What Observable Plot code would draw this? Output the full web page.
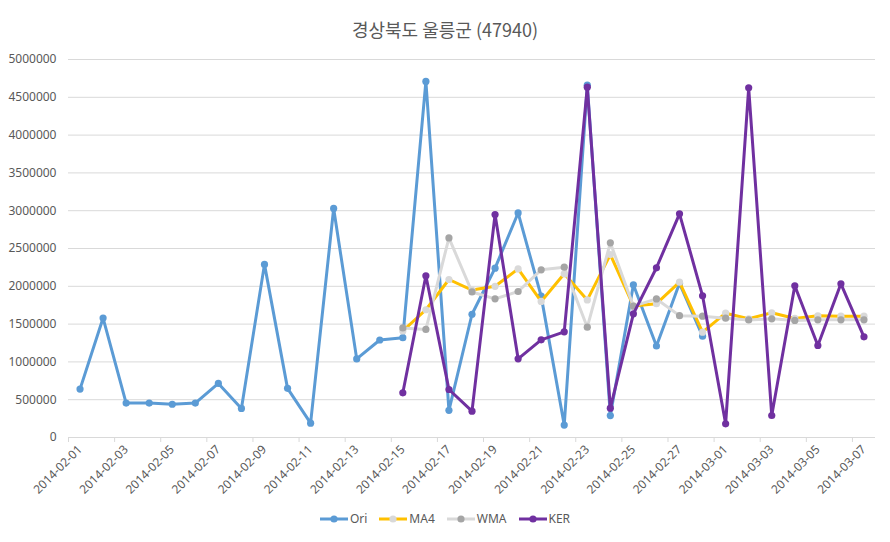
<!DOCTYPE html>
<html><head><meta charset="utf-8">
<script src="https://cdn.jsdelivr.net/npm/d3@7"></script>
<script src="https://cdn.jsdelivr.net/npm/@observablehq/plot@0.6"></script>
<style>
body{margin:0;background:#fff;font-family:"Noto Sans","Noto Sans CJK KR",sans-serif}
#wrap{position:relative;width:890px;height:542px;overflow:hidden}
#title{position:absolute;top:16px;left:0;width:890px;text-align:center;font-family:"Noto Sans CJK KR";font-size:18px;color:#595959}
#chart{position:absolute;top:45px;left:0}
#legend{position:absolute;top:510px;left:0;width:890px;display:flex;justify-content:center;font-size:12px;color:#595959}
#legend .it{display:flex;align-items:center;margin:0 6px}
#legend svg{margin-right:2px}
</style></head>
<body><div id="wrap"><div id="title">경상북도 울릉군 (47940)</div><div id="chart"></div><div id="legend"></div></div>
<script>
const dates = ["2014-02-01","2014-02-02","2014-02-03","2014-02-04","2014-02-05","2014-02-06","2014-02-07",
"2014-02-08","2014-02-09","2014-02-10","2014-02-11","2014-02-12","2014-02-13","2014-02-14","2014-02-15",
"2014-02-16","2014-02-17","2014-02-18","2014-02-19","2014-02-20","2014-02-21","2014-02-22","2014-02-23",
"2014-02-24","2014-02-25","2014-02-26","2014-02-27","2014-02-28","2014-03-01","2014-03-02","2014-03-03",
"2014-03-04","2014-03-05","2014-03-06","2014-03-07"];
const ori = [640000,1580000,455000,455000,440000,455000,715000,385000,2290000,650000,190000,3030000,1040000,1290000,1320000,
4710000,360000,1630000,2240000,2970000,1870000,165000,4660000,290000,2020000,1210000,2040000,1340000,
null,null,null,null,null,null,null];
const ma4 = [null,null,null,null,null,null,null,null,null,null,null,null,null,null,1410000,
1690000,2090000,1950000,2000000,2230000,1800000,2165000,1820000,2420000,1740000,1770000,2055000,1393000,
1644000,1570000,1650000,1575000,1610000,1605000,1605000];
const wma = [null,null,null,null,null,null,null,null,null,null,null,null,null,null,1450000,
1430000,2640000,1925000,1834000,1931000,2218000,2253000,1459000,2575000,1737000,1833000,1612000,1605000,
1578000,1555000,1570000,1548000,1557000,1557000,1557000];
const ker = [null,null,null,null,null,null,null,null,null,null,null,null,null,null,591000,
2139000,635000,348000,2950000,1041000,1292000,1398000,4634000,388000,1636000,2245000,2959000,1874000,
181000,4626000,291000,2007000,1217000,2033000,1332000];
const yTicks = [0,500000,1000000,1500000,2000000,2500000,3000000,3500000,4000000,4500000,5000000];

const series = [
  {name:"Ori", values:ori, line:"#5B9BD5", marker:"#5B9BD5"},
  {name:"MA4", values:ma4, line:"#FFC000", marker:"#D9D9D9"},
  {name:"WMA", values:wma, line:"#D9D9D9", marker:"#A5A5A5"},
  {name:"KER", values:ker, line:"#7030A0", marker:"#7030A0"}
];
const rows = s => s.values.map((v,i)=>({i, v, date:dates[i]})).filter(d=>d.v!=null);
const labelIdx = dates.map((d,i)=>i).filter(i=>i%2===0);
const tickIdx = labelIdx.map(i=>i-0.5);

const marks = [
  Plot.gridY(yTicks, {stroke:"#D9D9D9", strokeOpacity:1}),
  Plot.ruleY([0], {stroke:"#D9D9D9"}),
  Plot.axisY(yTicks, {label:null, tickSize:0, tickPadding:12, tickFormat:d=>String(d), fill:"#595959", fontSize:12}),
  Plot.axisX(labelIdx, {label:null, tickSize:0, tickPadding:10, tickRotate:-45, tickFormat:i=>dates[i], fill:"#595959", fontSize:12}),
  Plot.axisX(tickIdx, {label:null, tickSize:5, tickFormat:()=>"" , stroke:"#D9D9D9"})
];
for (const s of series) {
  marks.push(Plot.line(rows(s), {x:"i", y:"v", stroke:s.line, strokeWidth:3, strokeLinejoin:"round"}));
  marks.push(Plot.dot(rows(s), {x:"i", y:"v", fill:s.marker, r:3.6}));
}
const chart = Plot.plot({
  width:890, height:460,
  marginTop:14, marginBottom:68, marginLeft:68, marginRight:15,
  style:{fontFamily:'"Noto Sans", sans-serif', fontSize:"12px", color:"#595959", background:"#fff"},
  x:{type:"linear", domain:[-0.5, 34.5], label:null},
  y:{domain:[0,5000000], label:null},
  marks
});
document.getElementById("chart").appendChild(chart);

const leg = d3.select("#legend");
for (const s of series) {
  const it = leg.append("div").attr("class","it");
  const sv = it.append("svg").attr("width",28).attr("height",12);
  sv.append("line").attr("x1",0).attr("x2",28).attr("y1",6).attr("y2",6).attr("stroke",s.line).attr("stroke-width",3);
  sv.append("circle").attr("cx",14).attr("cy",6).attr("r",3.6).attr("fill",s.marker);
  it.append("span").text(s.name);
}
</script></body></html>
